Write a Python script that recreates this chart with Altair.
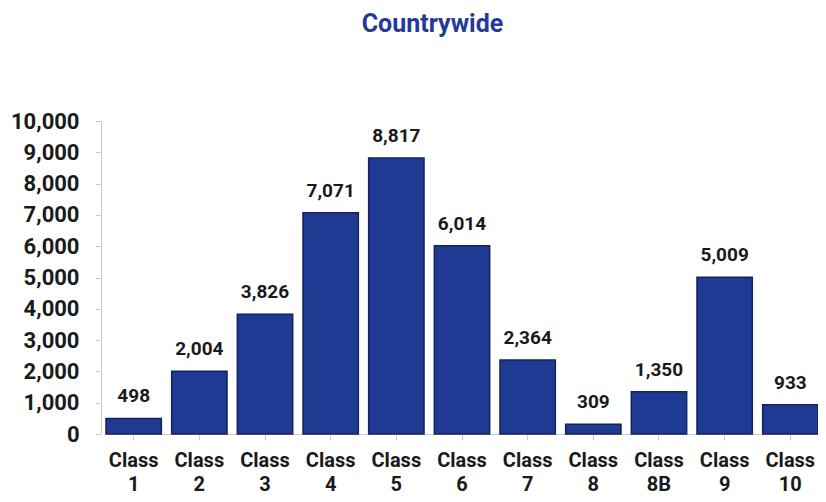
import altair as alt
import pandas as pd

categories = ["Class 1", "Class 2", "Class 3", "Class 4", "Class 5", "Class 6",
              "Class 7", "Class 8", "Class 8B", "Class 9", "Class 10"]
values = [498, 2004, 3826, 7071, 8817, 6014, 2364, 309, 1350, 5009, 933]
y_ticks = list(range(0, 10001, 1000))

df = pd.DataFrame({"cls": categories, "count": values})

FONT = "Roboto"

base = alt.Chart(df).encode(
    x=alt.X("cls:N", sort=categories, title=None,
            scale=alt.Scale(paddingInner=0.157, paddingOuter=0, range=[5, 717]),
            axis=alt.Axis(labelAngle=0, labelExpr="split(datum.label, ' ')",
                          labelFont=FONT, labelFontSize=20, labelFontWeight="bold",
                          labelColor="#1a1a1a", labelLineHeight=24, labelPadding=10,
                          domainColor="#cccccc", tickColor="#cccccc", tickSize=6,
                          labelBaseline="top")),
    y=alt.Y("count:Q", title=None,
            scale=alt.Scale(domain=[0, 10000], nice=False),
            axis=alt.Axis(values=y_ticks, format=",.0f", grid=False,
                          labelFont=FONT, labelFontSize=22, labelFontWeight="bold",
                          labelColor="#1a1a1a", labelPadding=16,
                          domainColor="#cccccc", tickColor="#cccccc", tickSize=6)),
)

bars = base.mark_bar(color="#1f3a93", stroke="#13235e", strokeWidth=1.5)
labels = base.mark_text(dy=-12, font=FONT, fontSize=19, fontWeight="bold",
                        color="#1a1a1a", baseline="bottom").encode(
    text=alt.Text("count:Q", format=",.0f"))

chart = (bars + labels).properties(
    width=717, height=313,
    autosize=alt.AutoSizeParams(type="none"),
    padding={"left": 93, "top": 113, "right": 0, "bottom": 60},
    title=alt.TitleParams("Countrywide", font=FONT, fontSize=25, fontWeight="bold",
                          color="#24399a", anchor="middle", offset=73, dx=-27),
).configure_view(stroke=None)

chart.save("out.html", embed_options={"renderer": "svg", "actions": False})
